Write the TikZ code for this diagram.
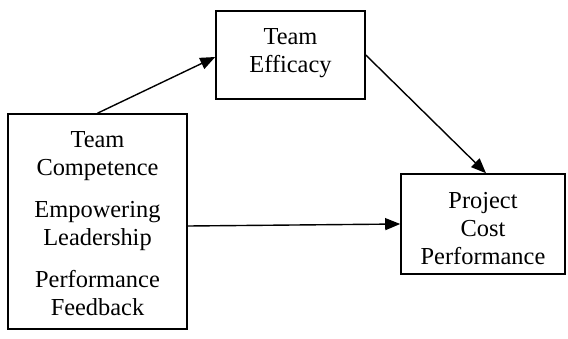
\documentclass[tikz,border=0pt]{standalone}
\usepackage{fontspec}
\setmainfont{Liberation Serif}
\usetikzlibrary{arrows.meta}
\begin{document}
\begin{tikzpicture}[x=1pt,y=-1pt,
  box/.style={draw,line width=1.6pt,inner sep=0pt,
    font=\fontsize{24.4}{28}\selectfont},
  conn/.style={line width=1.4pt,-{Triangle[length=15pt,width=12pt]}}]
\useasboundingbox (0,0) rectangle (568,338);
\node[box,minimum width=179pt,minimum height=215pt] (L) at (97.5,221.5)
  {\raisebox{0pt}[\dimexpr\height+9pt\relax][\depth]{\begin{tabular}{@{}c@{}}Team\\Competence\\[14pt]Empowering\\Leadership\\[14pt]Performance\\Feedback\end{tabular}}};
\node[box,minimum width=149pt,minimum height=88pt] (T) at (290.5,55)
  {\raisebox{0pt}[\height][\dimexpr\depth+5pt\relax]{\begin{tabular}{@{}c@{}}Team\\Efficacy\end{tabular}}};
\node[box,minimum width=164pt,minimum height=100pt] (R) at (483,224)
  {\raisebox{0pt}[\dimexpr\height+14pt\relax][\depth]{\begin{tabular}{@{}c@{}}Project\\Cost\\Performance\end{tabular}}};
\draw[conn] (L.north) -- ([yshift=-2pt]T.west);
\draw[conn] (T.east) -- ([xshift=3pt]R.north);
\draw[conn] ([yshift=-4.5pt]L.east) -- (R.west);
\end{tikzpicture}
\end{document}
